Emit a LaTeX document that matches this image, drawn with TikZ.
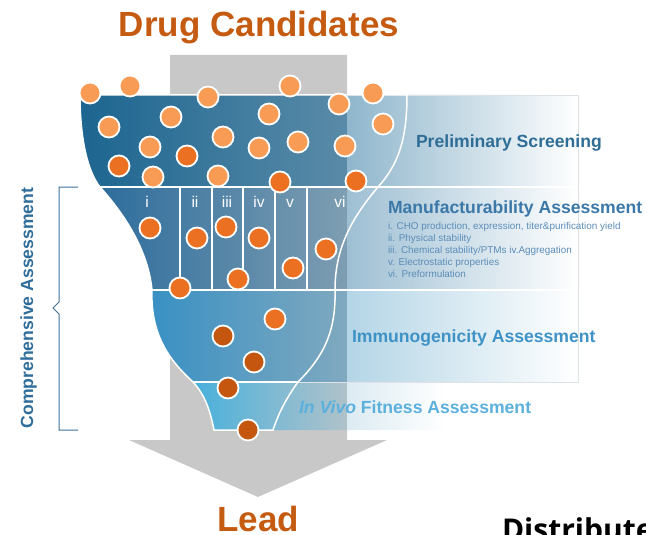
\documentclass[tikz,border=0pt]{standalone}
\usepackage{fontspec}
\setmainfont{Liberation Sans}
\newfontfamily\osans{Open Sans}
\definecolor{arrowgray}{HTML}{C8C8C8}
\definecolor{r1a}{HTML}{1C6590}\definecolor{r1b}{HTML}{5A8BA8}\definecolor{r1c}{HTML}{8FB6CC}
\definecolor{r2a}{HTML}{2C6C9C}\definecolor{r2b}{HTML}{7E9EB2}\definecolor{r2c}{HTML}{9EBFD3}
\definecolor{r3a}{HTML}{3890C4}\definecolor{r3b}{HTML}{80A9BF}\definecolor{r3c}{HTML}{B4D5E6}
\definecolor{r4a}{HTML}{47B0DC}\definecolor{r4b}{HTML}{B0C2CA}\definecolor{r4c}{HTML}{DCEBF2}
\definecolor{orangeT}{HTML}{C55A11}
\definecolor{prelimT}{HTML}{2E6D96}
\definecolor{manuT}{HTML}{3B78A8}
\definecolor{listT}{HTML}{5B8DB8}
\definecolor{immT}{HTML}{3E92C5}
\definecolor{vivoT}{HTML}{5BB0DD}
\definecolor{compT}{HTML}{2F6D9B}
\definecolor{braceC}{HTML}{3F6F95}
\definecolor{borderC}{HTML}{DCE2E6}
\definecolor{dotL}{HTML}{F89B55}
\definecolor{dotM}{HTML}{EC7022}
\definecolor{dotD}{HTML}{C5560F}
\begin{document}
\begin{tikzpicture}[x=1pt,y=-1pt,
  dotbase/.style={circle,draw=white,line width=1.8pt,minimum size=21pt,inner sep=0pt},
  dotl/.style={dotbase,fill=dotL},
  dotm/.style={dotbase,fill=dotM},
  dotd/.style={dotbase,fill=dotD},
  txt/.style={inner sep=0pt,outer sep=0pt},
  heading/.style={txt,font=\fontsize{17.6}{20}\bfseries\selectfont,anchor=base west},
  listtxt/.style={txt,font=\fontsize{9.9}{11}\selectfont,text=listT,anchor=base west},
  collab/.style={txt,font=\fontsize{15.5}{17}\selectfont,text=white,anchor=base},
  bigtxt/.style={txt,font=\fontsize{35}{40}\bfseries\selectfont,text=orangeT,anchor=base},
  funline/.style={white,line width=1.5pt}
]
\useasboundingbox (0,0) rectangle (646,535);
\clip (0,0) rectangle (646,535);
% gray arrow
\fill[arrowgray] (170,55) -- (347,55) -- (347,440) -- (387,440) -- (258,497) -- (129,440) -- (170,440) -- cycle;
% row 1
\begin{scope}
\clip (80,95) .. controls (80,140) and (88,172) .. (100,187) -- (578,187) -- (578,95) -- cycle;
\shade[left color=r1a, right color=r1b] (78,93) rectangle (347,189);
\shade[left color=r1c, right color=white] (347,93) rectangle (578,189);
\end{scope}
% row 2
\begin{scope}
\clip (100,187) .. controls (125,215) and (148,250) .. (152,290) -- (578,290) -- (578,187) -- cycle;
\shade[left color=r2a, right color=r2b] (96,186) rectangle (347,291);
\shade[left color=r2c, right color=white] (347,186) rectangle (578,291);
\end{scope}
% row 3
\begin{scope}
\clip (152,290) .. controls (150,340) and (175,365) .. (193,382) -- (578,382) -- (578,290) -- cycle;
\shade[left color=r3a, right color=r3b] (148,289) rectangle (347,383);
\shade[left color=r3c, right color=white] (347,289) rectangle (578,383);
\end{scope}
% row 4
\begin{scope}
\clip (193,382) .. controls (205,395) and (210,410) .. (214,430) -- (446,430) -- (446,382) -- cycle;
\shade[left color=r4a, right color=r4b] (190,381) rectangle (347,431);
\shade[left color=r4c, right color=white] (347,381) rectangle (446,431);
\end{scope}
% row borders
\draw[borderC,line width=0.8pt] (407,95) -- (578,95) -- (578,382) -- (298,382);
\draw[white,line width=1.2pt] (378,187) -- (577,187) (335,290) -- (577,290);
% funnel outline
\draw[funline] (80,95) .. controls (80,140) and (88,172) .. (100,187)
  .. controls (125,215) and (148,250) .. (152,290)
  .. controls (150,340) and (175,365) .. (193,382)
  .. controls (205,395) and (210,410) .. (214,430) -- (273,430)
  .. controls (278,415) and (285,400) .. (298,382)
  .. controls (325,355) and (336,330) .. (335,290)
  .. controls (335,250) and (350,220) .. (378,187)
  .. controls (398,165) and (407,140) .. (407,95) -- cycle;
\draw[funline] (100,187) -- (378,187) (152,290) -- (335,290) (193,382) -- (298,382);
\draw[funline] (180,187) -- (180,290) (212,187) -- (212,290) (243,187) -- (243,290)
  (275,187) -- (275,290) (307,187) -- (307,290);
% column labels
\node[collab] (ci) at (147,207) {i};
\node[collab] (cii) at (195,207) {ii};
\node[collab] (ciii) at (227,207) {iii};
\node[collab] (civ) at (259,207) {iv};
\node[collab] (cv) at (290,207) {v};
\node[collab] (cvi) at (340,207) {vi};
% dots row 1
\node[dotl] (d1) at (90,93) {};
\node[dotl] (d2) at (130,86) {};
\node[dotl] (d3) at (208,97) {};
\node[dotl] (d4) at (290,86) {};
\node[dotl] (d5) at (339,104) {};
\node[dotl] (d6) at (373,93) {};
\node[dotl] (d7) at (109,127) {};
\node[dotl] (d8) at (171,117) {};
\node[dotl] (d9) at (269,114) {};
\node[dotl] (d10) at (383,124) {};
\node[dotl] (d11) at (150,147) {};
\node[dotl] (d12) at (223,137) {};
\node[dotl] (d13) at (259,148) {};
\node[dotl] (d14) at (298,142) {};
\node[dotl] (d15) at (345,146) {};
\node[dotm] (d16) at (119,166) {};
\node[dotm] (d17) at (187,156) {};
\node[dotl] (d18) at (153,177) {};
\node[dotl] (d19) at (218,176) {};
\node[dotm] (d20) at (280,182) {};
\node[dotm] (d21) at (356,181) {};
% dots row 2
\node[dotm] (e1) at (150,228) {};
\node[dotm] (e2) at (197,238) {};
\node[dotm] (e3) at (226,227) {};
\node[dotm] (e4) at (259,238) {};
\node[dotm] (e5) at (326,249) {};
\node[dotm] (e6) at (238,279) {};
\node[dotm] (e7) at (293,268) {};
\node[dotm] (e8) at (180,288) {};
% dots rows 3-4
\node[dotm] (f1) at (275,319) {};
\node[dotd] (f2) at (223,336) {};
\node[dotd] (f3) at (254,362) {};
\node[dotd] (f4) at (228,388) {};
\node[dotd] (f5) at (248,430) {};
% brace
\coordinate (bt) at (78,187);
\coordinate (bb) at (78,430);
\draw[braceC,line width=1pt] (bt) -- (59,187) -- (59,302) -- (53,308) -- (59,314) -- (59,430) -- (bb);
% texts
\node[bigtxt] (title) at (259,37) {Drug Candidates};
\node[bigtxt] (lead) at (258,531) {Lead};
\node[heading,text=prelimT] (prelim) at (416,147) {Preliminary Screening};
\node[heading,text=manuT] (manu) at (388,213) {Manufacturability Assessment};
\node[listtxt] (l1) at (388,229) {i. CHO production, expression, titer\&purification yield};
\node[listtxt] (l2) at (388,241) {ii. Physical stability};
\node[listtxt] (l3) at (388,253) {iii. Chemical stability/PTMs iv.Aggregation};
\node[listtxt] (l4) at (388,265) {v. Electrostatic properties};
\node[listtxt] (l5) at (388,277) {vi. Preformulation};
\node[heading,text=immT] (imm) at (352,342) {Immunogenicity Assessment};
\node[heading,text=vivoT] (vivo) at (299,413) {\itshape In Vivo\upshape{} Fitness Assessment};
\node[txt,font=\fontsize{17.6}{20}\bfseries\selectfont,text=compT,rotate=90,anchor=base] (comp) at (33,308) {Comprehensive Assessment};
\node[txt,font=\osans\fontsize{30}{34}\bfseries\selectfont,text=black,anchor=base west] (dist) at (502,540) {Distribute};
\end{tikzpicture}
\end{document}
